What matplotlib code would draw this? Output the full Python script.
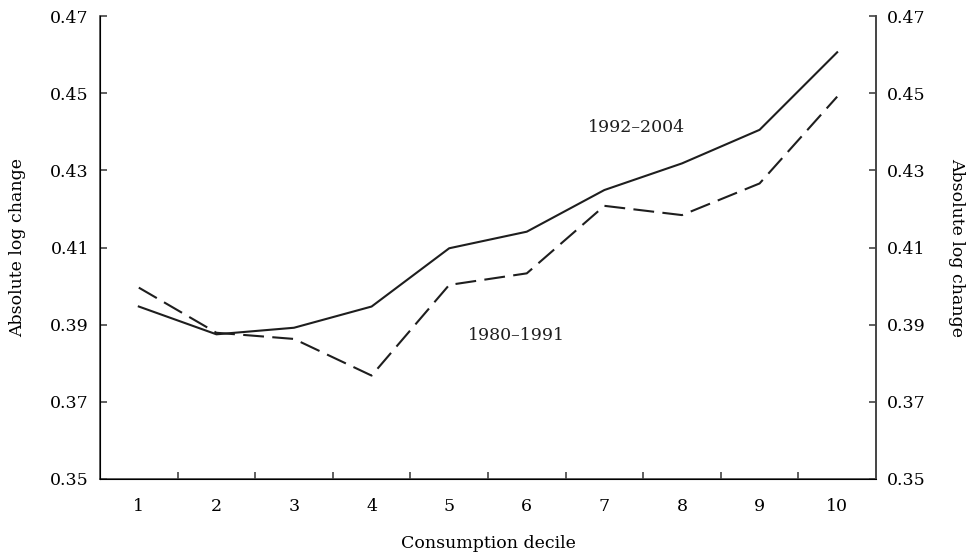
import matplotlib
matplotlib.use("Agg")
import matplotlib.pyplot as plt
import numpy as np

deciles = [1, 2, 3, 4, 5, 6, 7, 8, 9, 10]
late_period = [0.3947, 0.3875, 0.3892, 0.3947, 0.4098, 0.4141, 0.4249, 0.4318, 0.4405, 0.4606]  # 1992-2004
early_period = [0.3996, 0.3879, 0.3863, 0.3768, 0.4003, 0.4033, 0.4208, 0.4184, 0.4266, 0.4491]  # 1980-1991
y_ticks = [0.35, 0.37, 0.39, 0.41, 0.43, 0.45, 0.47]
y_tick_labels = ["0.35", "0.37", "0.39", "0.41", "0.43", "0.45", "0.47"]

plt.rcParams['font.family'] = ['DejaVu Serif']
ink = "#1e1e1e"
axis_col = "#444444"

fig = plt.figure(figsize=(9.69, 5.58), dpi=100)
ax = fig.add_axes([0.1032, 0.1416, 0.8008, 0.8297])

ax.plot(deciles, late_period, color=ink, lw=1.5, solid_joinstyle="miter")
ax.plot(deciles, early_period, color=ink, lw=1.5, dashes=(10, 4))

ax.set_xlim(0.5, 10.5)
ax.set_ylim(0.35, 0.47)

ax.spines["top"].set_visible(False)
for s in ["left", "bottom", "right"]:
    ax.spines[s].set_color(axis_col)
    ax.spines[s].set_linewidth(1.2)

# x axis: labels at centers, tick marks between categories
ax.set_xticks(deciles)
ax.set_xticklabels([str(d) for d in deciles])
ax.tick_params(axis="x", which="major", length=0, pad=14, labelsize=12.5)
ax.set_xticks(np.arange(1.5, 10.5, 1), minor=True)
ax.tick_params(axis="x", which="minor", direction="in", length=5, width=1.2, color=axis_col)

ax.set_yticks(y_ticks)
ax.set_yticklabels(y_tick_labels)
ax.tick_params(axis="y", direction="in", length=5, width=1.2, color=axis_col,
               labelsize=12.5, pad=8)

ax2 = ax.twinx()
ax2.set_ylim(ax.get_ylim())
ax2.set_yticks(y_ticks)
ax2.set_yticklabels(y_tick_labels)
ax2.tick_params(axis="y", direction="in", length=5, width=1.2, color=axis_col,
                labelsize=12.5, pad=8)
ax2.spines["top"].set_visible(False)
ax2.spines["right"].set_color(axis_col)
ax2.spines["right"].set_linewidth(1.2)

ax.set_ylabel("Absolute log change", fontsize=12.5, labelpad=17)
ax2.set_ylabel("Absolute log change", fontsize=12.5, rotation=270, labelpad=28)
ax.set_xlabel("Consumption decile", fontsize=12.5, labelpad=14)

ax.text(7.42, 0.441, "1992–2004", fontsize=12.5, ha="center", va="center", color=ink)
ax.text(5.87, 0.3873, "1980–1991", fontsize=12.5, ha="center", va="center", color=ink)

fig.savefig("out.png", dpi=100)
